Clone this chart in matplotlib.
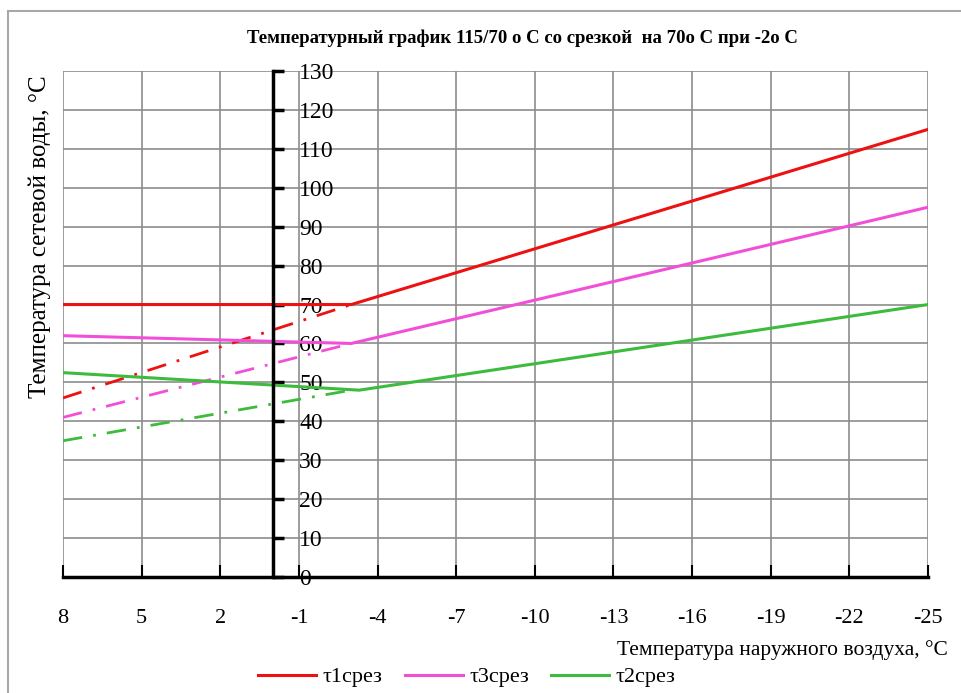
import matplotlib
matplotlib.use('Agg')
import matplotlib.pyplot as plt
from matplotlib.lines import Line2D

# температура наружного воздуха (ось X идёт от +8 к -25)
x_ticks = [8, 5, 2, -1, -4, -7, -10, -13, -16, -19, -22, -25]
y_ticks = list(range(0, 131, 10))

# графики со срезкой
t1_x = [8, -3, -25]
t1 = [70, 70, 115]
t3_x = [8, -3, -25]
t3 = [62, 60, 95]
t2_x = [8, -3.3, -25]
t2 = [52.5, 48, 70]

# участки без срезки (штрих-пунктир)
t1_full_x = [8, -3]
t1_full = [46, 70]
t3_full_x = [8, -3]
t3_full = [41, 60]
t2_full_x = [8, -3]
t2_full = [35, 48]

RED = '#ee1111'
MAG = '#f24fd8'
GRN = '#3dbb3d'

plt.rcParams['font.family'] = ['Liberation Serif', 'DejaVu Serif']

fig = plt.figure(figsize=(9.61, 6.93), dpi=100)
ax = fig.add_axes([63 / 961, 1 - 577 / 693, 865 / 961, 506 / 693])

dash = (0, (7, 4, 1, 4))
ax.plot(t1_full_x, t1_full, color=RED, lw=2, ls=dash)
ax.plot(t3_full_x, t3_full, color=MAG, lw=2, ls=dash)
ax.plot(t2_full_x, t2_full, color=GRN, lw=2, ls=dash)
ax.plot(t1_x, t1, color=RED, lw=2.2, label='τ1срез')
ax.plot(t3_x, t3, color=MAG, lw=2.2, label='τ3срез')
ax.plot(t2_x, t2, color=GRN, lw=2.2, label='τ2срез')

ax.set_xlim(8, -25)
ax.set_ylim(0, 130)
ax.set_xticks(x_ticks)
ax.set_xticklabels([str(v) for v in x_ticks])
ax.set_yticks(y_ticks)
ax.set_yticklabels([str(v) for v in y_ticks])
ax.grid(True, color='#8c8c8c', lw=1.2)
ax.set_axisbelow(True)

for s in ['top', 'right']:
    ax.spines[s].set_visible(False)
ax.spines['left'].set_position(('data', 0))
ax.spines['left'].set_linewidth(2.5)
ax.spines['bottom'].set_linewidth(2.5)

ax.tick_params(axis='x', direction='in', length=9, width=1.5, pad=23,
               labelsize=16)
ax.tick_params(axis='y', direction='in', length=8, width=2.5, pad=-19,
               labelsize=17)
plt.setp(ax.get_yticklabels(), ha='left')

fig.text(522 / 961, 1 - 38 / 693, 'Температурный график 115/70 о С со срезкой  на 70о С при -2о С',
         ha='center', va='center', fontsize=13.5, fontweight='bold')
fig.text(40 / 961, 1 - 237 / 693, 'Температура сетевой воды, °С', rotation=90,
         ha='center', va='center', fontsize=18)
fig.text(948 / 961, 1 - 650 / 693, 'Температура наружного воздуха, °С',
         ha='right', va='center', fontsize=15.5)

fig.legend(loc='center', bbox_to_anchor=(467 / 961, 1 - 677 / 693), ncol=3,
           frameon=False, fontsize=16, handlelength=2.6, columnspacing=1.0,
           handletextpad=0.3)

# рамка области диаграммы
fig.add_artist(Line2D([8 / 961, 8 / 961], [0, 1 - 11 / 693], color='#a8a8a8', lw=1.5))
fig.add_artist(Line2D([8 / 961, 1], [1 - 11 / 693, 1 - 11 / 693], color='#a8a8a8', lw=1.5))

fig.savefig('out.png', dpi=100)
